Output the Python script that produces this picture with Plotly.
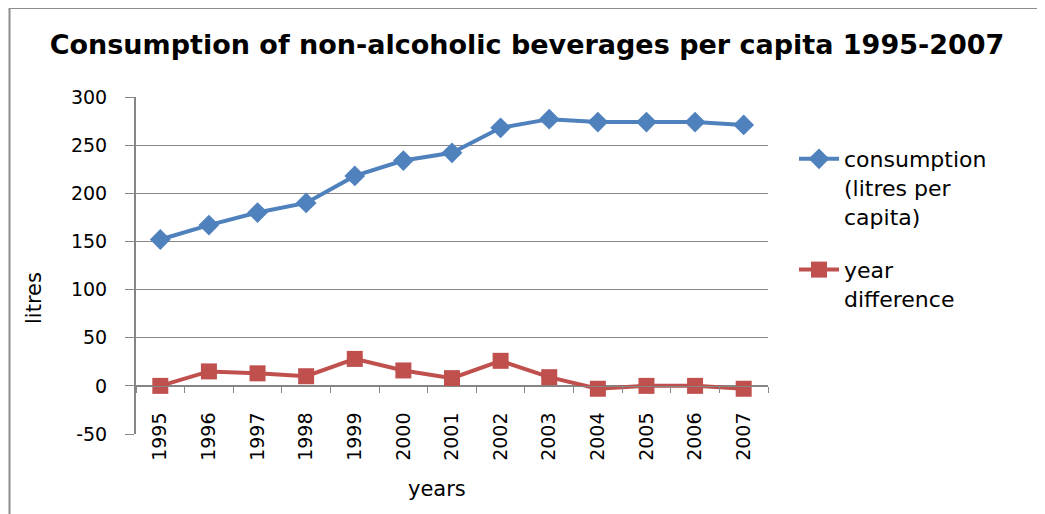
import plotly.graph_objects as go

years = ["1995", "1996", "1997", "1998", "1999", "2000", "2001",
         "2002", "2003", "2004", "2005", "2006", "2007"]
consumption = [152, 167, 180, 190, 218, 234, 242, 268, 277, 274, 274, 274, 271]
year_difference = [0, 15, 13, 10, 28, 16, 8, 26, 9, -3, 0, 0, -3]

y_ticks = [-50, 0, 50, 100, 150, 200, 250, 300]
y_tick_text = ["-50", "0", "50", "100", "150", "200", "250", "300"]

# page offset (body margin) of the rendered div
OX, OY = 8, 8
W, H = 1045 - OX, 514 - OY
# plot area in screen pixels
PX0, PX1, PY0, PY1 = 136, 768, 97, 434
ML, MR, MT, MB = PX0 - OX, (1045 - PX1), PY0 - OY, (514 - PY1)
PW = PX1 - PX0
PH = PY1 - PY0


def px(sx):
    return (sx - PX0) / PW


def py(sy):
    return (PY1 - sy) / PH


FONT = "DejaVu Sans"
GRID = "#868686"

fig = go.Figure()
fig.add_trace(go.Scatter(
    x=years, y=consumption, mode="lines+markers",
    name="consumption<br>(litres per<br>capita)",
    legendgroup="a",
    line=dict(color="#4F81BD", width=4),
    marker=dict(symbol="diamond", size=16, color="#4F81BD"),
))
fig.add_trace(go.Scatter(
    x=years, y=year_difference, mode="lines+markers",
    name="year<br>difference",
    legendgroup="b",
    line=dict(color="#C0504D", width=4),
    marker=dict(symbol="square", size=16, color="#C0504D"),
))

zero_pos = (0 - y_ticks[0]) / (y_ticks[-1] - y_ticks[0])

fig.update_layout(
    width=W, height=H,
    margin=dict(l=ML, r=MR, t=MT, b=MB, pad=0),
    paper_bgcolor="white", plot_bgcolor="white",
    font=dict(family=FONT, color="black", size=18),
    title=dict(text="<b>Consumption of non-alcoholic beverages per capita 1995-2007</b>",
               x=(527 - OX) / W, xanchor="center", y=1 - (45 - OY) / H, yanchor="middle",
               font=dict(family=FONT, size=27, color="black")),
    showlegend=True,
    legend=dict(x=px(794), xanchor="left", y=py(138), yanchor="top",
                font=dict(family=FONT, size=22, color="black"),
                valign="top", tracegroupgap=22, bgcolor="rgba(0,0,0,0)",
                itemwidth=40),
    xaxis=dict(
        type="category", categoryarray=years, categoryorder="array",
        range=[-0.5, len(years) - 0.5],
        anchor="free", position=zero_pos,
        showline=True, linecolor=GRID, linewidth=1,
        ticks="outside", tickson="boundaries", ticklen=6, tickcolor=GRID, tickwidth=1,
        showgrid=False, zeroline=False,
        tickangle=-90, tickfont=dict(family=FONT, size=19, color="black"),
        ticklabelstandoff=18,
    ),
    yaxis=dict(
        range=[y_ticks[0], y_ticks[-1]], tickvals=y_ticks, ticktext=y_tick_text,
        showline=True, linecolor=GRID, linewidth=2,
        ticks="outside", ticklen=9, tickcolor=GRID, tickwidth=1,
        showgrid=True, gridcolor=GRID, gridwidth=1,
        zeroline=False,
        tickfont=dict(family=FONT, size=19, color="black"),
        ticklabelstandoff=14,
    ),
    annotations=[
        dict(text="litres", xref="paper", yref="paper",
             x=px(34), y=py(298), textangle=-90,
             showarrow=False, xanchor="center", yanchor="middle",
             font=dict(family=FONT, size=21, color="black")),
        dict(text="years", xref="paper", yref="paper",
             x=px(437), y=py(489),
             showarrow=False, xanchor="center", yanchor="middle",
             font=dict(family=FONT, size=21, color="black")),
    ],
    shapes=[
        dict(type="line", xref="paper", yref="paper",
             x0=px(9), x1=px(1060), y0=py(8.5), y1=py(8.5),
             line=dict(color="#8c8c8c", width=1)),
        dict(type="line", xref="paper", yref="paper",
             x0=px(9.5), x1=px(9.5), y0=py(8), y1=py(530),
             line=dict(color="#8c8c8c", width=2)),
    ],
)

fig.write_html("out.html")
